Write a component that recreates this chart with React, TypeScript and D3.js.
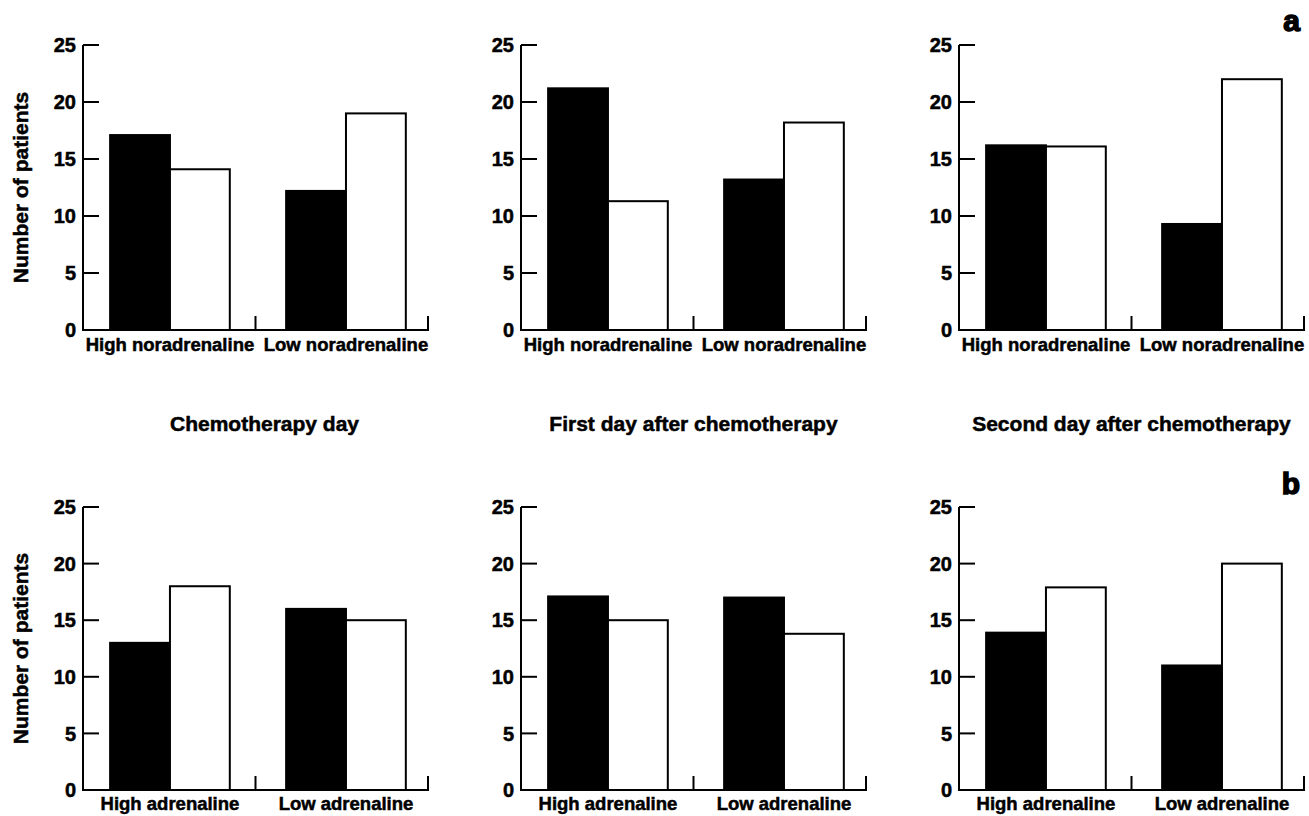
import React from "react";
import { scaleBand, scaleLinear } from "d3";

const width = 1309;
const height = 816;

// data
const panelTitles = [
  "Chemotherapy day",
  "First day after chemotherapy",
  "Second day after chemotherapy",
];
const noradrenalineCategories = ["High noradrenaline", "Low noradrenaline"];
const adrenalineCategories = ["High adrenaline", "Low adrenaline"];
const seriesKeys = ["filled", "open"];
const yTicks = [0, 5, 10, 15, 20, 25];
const rowLetters = ["a", "b"];

// one [high, low] pair per day
const noradrenalineFilled = [
  [17.1, 12.2],
  [21.2, 13.2],
  [16.2, 9.3],
];
const noradrenalineOpen = [
  [14.1, 19],
  [11.3, 18.2],
  [16.1, 22],
];
const adrenalineFilled = [
  [13, 16],
  [17.1, 17],
  [13.9, 11],
];
const adrenalineOpen = [
  [18, 15],
  [15, 13.8],
  [17.9, 20],
];

// layout
const panelLeft = [83, 521, 959];
const panelWidth = 345;
const rowTop = [45, 507];
const rowBase = [330, 790];
const labelGap = [21, 20];
const font = "'Liberation Sans', Arial, sans-serif";
const heavy = { fontFamily: font, fontWeight: "bold", stroke: "#000", strokeWidth: 0.5 };

const Panel = ({ x0, yTop, yBase, categories, filled, open, showYLabel, gap }) => {
  const yScale = scaleLinear().domain([0, 25]).range([yBase, yTop]);
  const xScale = scaleBand()
    .domain(categories)
    .range([x0, x0 + panelWidth])
    .paddingInner(0.32)
    .paddingOuter(0.14)
    .align(0.55);
  const inner = scaleBand().domain(seriesKeys).range([0, xScale.bandwidth()]);
  const x1 = x0 + panelWidth;
  const mid = x0 + panelWidth / 2;

  return (
    <g>
      {categories.map((c, i) => {
        const vals = { filled: filled[i], open: open[i] };
        return (
          <g key={c}>
            {seriesKeys.map((k) => (
              <rect
                key={k}
                x={xScale(c) + inner(k)}
                y={yScale(vals[k])}
                width={inner.bandwidth()}
                height={yBase - yScale(vals[k])}
                fill={k === "filled" ? "#000" : "#fff"}
                stroke="#000"
                strokeWidth={2}
              />
            ))}
            <text
              x={xScale(c) + xScale.bandwidth() / 2}
              y={yBase + gap}
              textAnchor="middle"
              {...heavy}
              fontSize={18.5}
            >
              {c}
            </text>
          </g>
        );
      })}
      <path
        d={`M${x0},${yTop}V${yBase}H${x1}V${yBase - 14}M${mid},${yBase}V${yBase - 14}`}
        fill="none"
        stroke="#000"
        strokeWidth={2}
      />
      {yTicks.map((t) => (
        <g key={t}>
          {t > 0 && (
            <line x1={x0} x2={x0 + 16} y1={yScale(t)} y2={yScale(t)} stroke="#000" strokeWidth={2} />
          )}
          <text
            x={x0 - 7}
            y={yScale(t)}
            dy="0.36em"
            textAnchor="end"
            {...heavy}
            fontSize={20}
          >
            {t}
          </text>
        </g>
      ))}
      {showYLabel && (
        <text
          transform={`translate(28,${(yTop + yBase) / 2}) rotate(-90)`}
          textAnchor="middle"
          {...heavy}
          fontSize={21}
        >
          Number of patients
        </text>
      )}
    </g>
  );
};

export default function App() {
  const rows = [
    { categories: noradrenalineCategories, filled: noradrenalineFilled, open: noradrenalineOpen },
    { categories: adrenalineCategories, filled: adrenalineFilled, open: adrenalineOpen },
  ];
  return (
    <svg
      width={width}
      height={height}
      style={{ position: "absolute", left: 0, top: 0, background: "#fff" }}
    >
      <rect width={width} height={height} fill="#fff" />
      {rows.map((r, ri) => (
        <g key={ri}>
          {panelLeft.map((x0, pi) => (
            <Panel
              key={pi}
              x0={x0}
              yTop={rowTop[ri]}
              yBase={rowBase[ri]}
              categories={r.categories}
              filled={r.filled[pi]}
              open={r.open[pi]}
              showYLabel={pi === 0}
              gap={labelGap[ri]}
            />
          ))}
          <text
            x={1300}
            y={ri === 0 ? 31 : 494}
            textAnchor="end"
            fontFamily={font}
            fontWeight="bold"
            fontSize={30}
            stroke="#000"
            strokeWidth={1.5}
          >
            {rowLetters[ri]}
          </text>
        </g>
      ))}
      {panelTitles.map((t, i) => (
        <text
          key={t}
          x={panelLeft[i] + panelWidth / 2 + (i === 0 ? 9 : 0)}
          y={431}
          textAnchor="middle"
          {...heavy}
          fontSize={21}
        >
          {t}
        </text>
      ))}
    </svg>
  );
}
